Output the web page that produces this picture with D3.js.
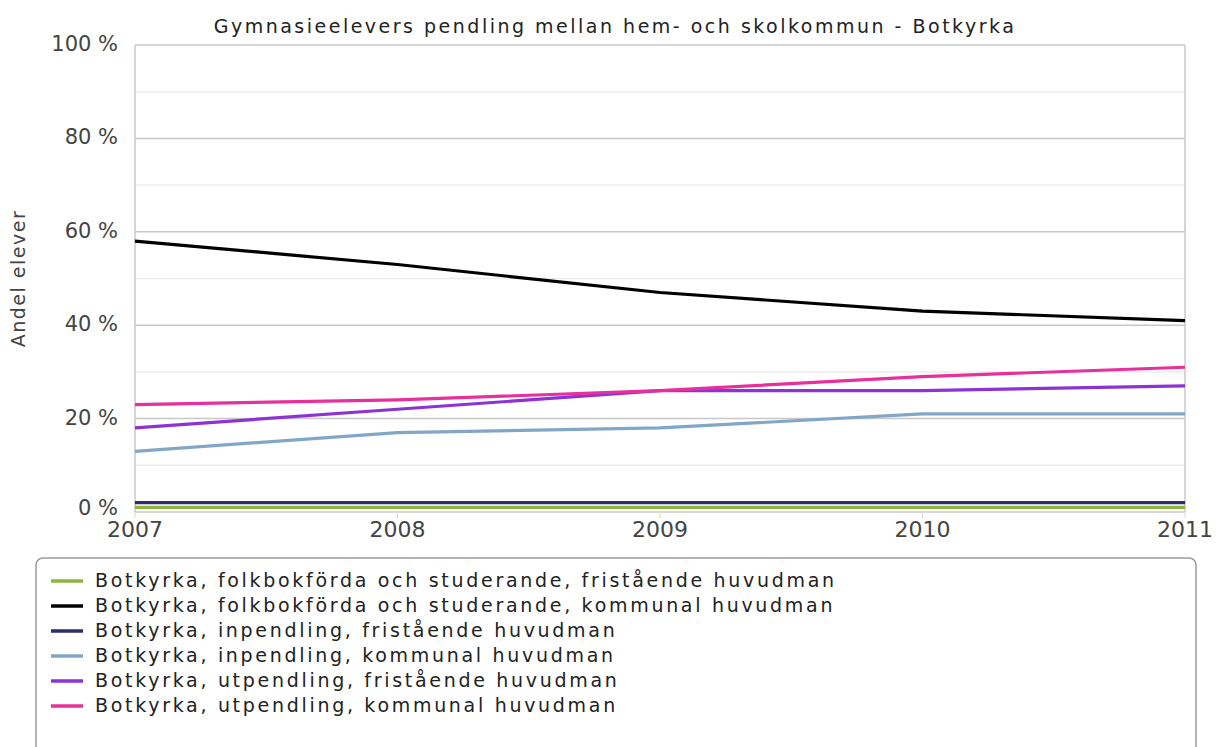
<!DOCTYPE html>
<html>
<head>
<meta charset="utf-8">
<script src="https://cdn.jsdelivr.net/npm/d3@7"></script>
<style>
  body { margin: 0; background: #fff; }
  svg { display: block; font-family: "DejaVu Sans", sans-serif; }
</style>
</head>
<body>
<svg id="chart" width="1218" height="747"></svg>
<script>
const years = [2007, 2008, 2009, 2010, 2011];
const yTicks = [0, 20, 40, 60, 80, 100];

const seriesNames = [
  "Botkyrka, folkbokförda och studerande, fristående huvudman",
  "Botkyrka, folkbokförda och studerande, kommunal huvudman",
  "Botkyrka, inpendling, fristående huvudman",
  "Botkyrka, inpendling, kommunal huvudman",
  "Botkyrka, utpendling, fristående huvudman",
  "Botkyrka, utpendling, kommunal huvudman"
];
const seriesColors = ["#8db63c", "#000000", "#2b2d6e", "#82a7c6", "#8c33d6", "#e8309c"];

const folkFri = [1, 1, 1, 1, 1];
const folkKom = [58, 53, 47, 43, 41];
const inFri = [2, 2, 2, 2, 2];
const inKom = [13, 17, 18, 21, 21];
const utFri = [18, 22, 26, 26, 27];
const utKom = [23, 24, 26, 29, 31];
const seriesValues = [folkFri, folkKom, inFri, inKom, utFri, utKom];

const title = "Gymnasieelevers pendling mellan hem- och skolkommun - Botkyrka";
const yLabel = "Andel elever";

const svg = d3.select("#chart");
const mLeft = 135, mRight = 1185, mTop = 45, mBottom = 512;

const x = d3.scaleLinear().domain([2007, 2011]).range([mLeft, mRight]);
const y = d3.scaleLinear().domain([0, 100]).range([mBottom, mTop]);

// minor gridlines every 10 %
svg.append("g").selectAll("line")
  .data(d3.range(10, 100, 20))
  .join("line")
  .attr("x1", mLeft).attr("x2", mRight)
  .attr("y1", d => y(d)).attr("y2", d => y(d))
  .attr("stroke", "#ececec").attr("stroke-width", 1.5);

// major gridlines
svg.append("g").selectAll("line")
  .data(yTicks)
  .join("line")
  .attr("x1", mLeft).attr("x2", mRight)
  .attr("y1", d => y(d)).attr("y2", d => y(d))
  .attr("stroke", "#c8c8c8").attr("stroke-width", 1.5);

// vertical edges of plot
svg.append("g").selectAll("line")
  .data([2007, 2011])
  .join("line")
  .attr("x1", d => x(d)).attr("x2", d => x(d))
  .attr("y1", mTop).attr("y2", mBottom)
  .attr("stroke", "#c8c8c8").attr("stroke-width", 1.5);

// small tick marks at years
svg.append("g").selectAll("line")
  .data(years)
  .join("line")
  .attr("x1", d => x(d)).attr("x2", d => x(d))
  .attr("y1", mBottom).attr("y2", mBottom + 6)
  .attr("stroke", "#d8d8d8").attr("stroke-width", 1);

// y labels
svg.append("g").selectAll("text")
  .data(yTicks)
  .join("text")
  .attr("x", 118).attr("y", d => d === 0 ? y(d) + 3 : y(d) + 6)
  .attr("text-anchor", "end")
  .attr("font-size", 21)
  .attr("fill", "#444")
  .text(d => d + " %");

// x labels
svg.append("g").selectAll("text")
  .data(years)
  .join("text")
  .attr("x", d => x(d)).attr("y", 537)
  .attr("text-anchor", "middle")
  .attr("font-size", 22)
  .attr("fill", "#444")
  .text(d => d);

// title
svg.append("text")
  .attr("x", 615).attr("y", 33)
  .attr("text-anchor", "middle")
  .attr("font-size", 19)
  .attr("letter-spacing", 2.5)
  .attr("fill", "#222")
  .text(title);

// axis label
svg.append("text")
  .attr("transform", "translate(25," + ((mTop + mBottom) / 2) + ") rotate(-90)")
  .attr("text-anchor", "middle")
  .attr("font-size", 19)
  .attr("letter-spacing", 1.5)
  .attr("fill", "#444")
  .text(yLabel);

// lines
const line = d3.line()
  .x((d, i) => x(years[i]))
  .y(d => y(d));

svg.append("g").selectAll("path")
  .data(seriesValues)
  .join("path")
  .attr("d", line)
  .attr("fill", "none")
  .attr("stroke", (d, i) => seriesColors[i])
  .attr("stroke-width", 3.2);

// legend
svg.append("rect")
  .attr("x", 36).attr("y", 558)
  .attr("width", 1160).attr("height", 220)
  .attr("rx", 7)
  .attr("fill", "#fff")
  .attr("stroke", "#9a9a9a").attr("stroke-width", 1.5);

const items = svg.append("g").selectAll("g")
  .data(seriesNames)
  .join("g")
  .attr("transform", (d, i) => "translate(0," + (587 + i * 25) + ")");

items.append("line")
  .attr("x1", 51).attr("x2", 83)
  .attr("y1", -6).attr("y2", -6)
  .attr("stroke", (d, i) => seriesColors[i])
  .attr("stroke-width", 3.5);

items.append("text")
  .attr("x", 95).attr("y", 0)
  .attr("font-size", 19)
  .attr("letter-spacing", 2.7)
  .attr("fill", "#222")
  .text(d => d);
</script>
</body>
</html>
